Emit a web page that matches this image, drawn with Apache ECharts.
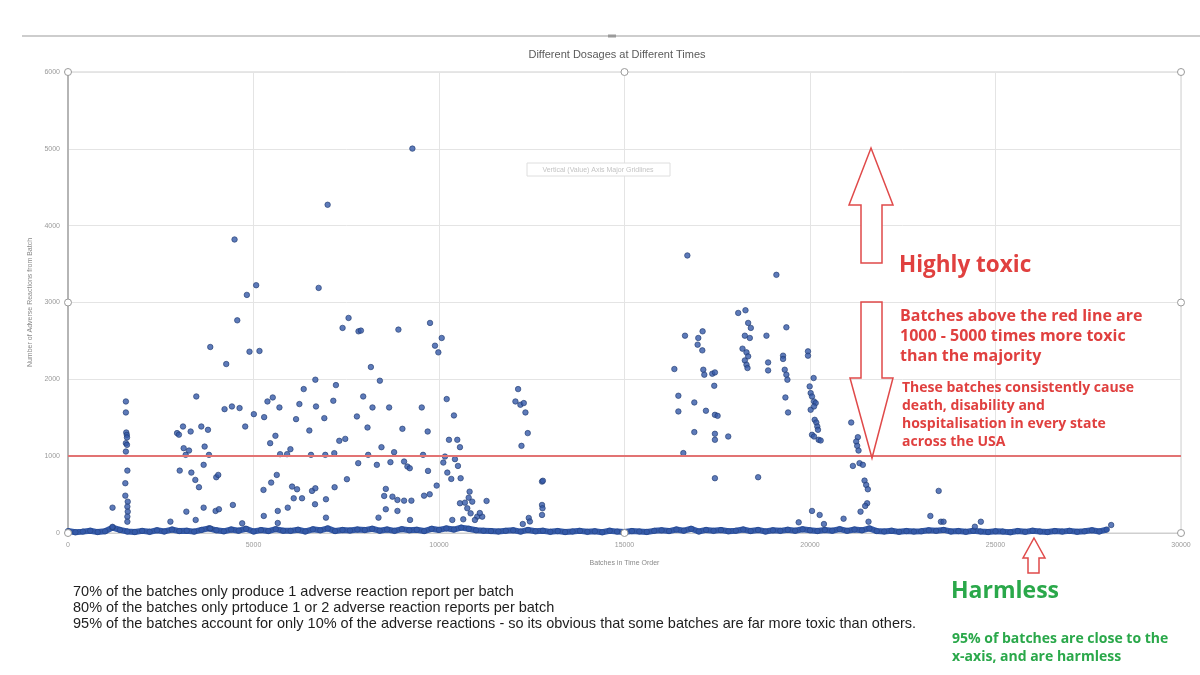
<!DOCTYPE html>
<html><head><meta charset="utf-8">
<script src="https://cdn.jsdelivr.net/npm/echarts@6/dist/echarts.min.js"></script>
<style>html,body{margin:0;padding:0;background:#fff}#c{width:1200px;height:675px}</style>
</head><body><div id="c"></div>
<script>
// ---------- DATA ----------
const chartTitle = 'Different Dosages at Different Times';
const xAxisTitle = 'Batches in Time Order';
const yAxisTitle = 'Number of Adverse Reactions from Batch';
const xTickValues = [0, 5000, 10000, 15000, 20000, 25000, 30000];
const yTickValues = [0, 1000, 2000, 3000, 4000, 5000, 6000];
const toxicThreshold = 1000;

// dense band of batches near the x-axis (one reading every 200 batches)
const baselineStep = 200;
const baselineReports = [
  25, 10, 18, 30, 12, 22, 70, 40, 20, 12,
  28, 15, 35, 20, 45, 25, 30, 18, 40, 60,
  35, 22, 45, 30, 55, 20, 38, 25, 50, 30,
  28, 42, 20, 48, 35, 60, 25, 40, 32, 45,
  38, 55, 30, 45, 28, 50, 35, 42, 25, 55,
  40, 60, 45, 70, 55, 35, 30, 25, 20, 28,
  35, 18, 40, 22, 30, 15, 25, 12, 20, 28,
  15, 22, 10, 30, 18, 12, 25, 20, 14, 28,
  35, 25, 45, 30, 55, 20, 40, 28, 38, 22,
  30, 45, 25, 40, 20, 35, 28, 42, 30, 48,
  35, 25, 40, 30, 50, 28, 45, 35, 60, 25,
  20, 30, 15, 25, 18, 22, 35, 28, 40, 20,
  25, 15, 30, 20, 12, 22, 18, 10, 25, 15,
  30, 20, 12, 25, 18, 28, 15, 22, 35, 20,
  45
];

// [batch index, adverse reaction reports]
const cluster1500 = [[1200,330],[1200,80],[1560,1712],[1560,1569],[1570,1308],[1585,1277],[1590,1243],[1560,1169],[1590,1147],[1560,1060],[1600,812],[1545,648],[1545,486],[1610,408],[1600,343],[1610,278],[1600,213],[1600,147]];
const cluster3000 = [[2760,148],[2940,1300],[2990,1280],[3100,1386],[3306,1321],[3458,1777],[3593,1386],[3773,1343],[3835,2421],[3118,1104],[3262,1073],[3172,1017],[3683,1125],[3800,1017],[3011,812],[3325,786],[3432,691],[3530,596],[3656,887],[3996,726],[4050,756],[3190,278],[3441,170],[3656,330],[3978,287],[4068,309],[3835,60]];
const cluster5000 = [[4220,1612],[4265,2199],[4418,1647],[4489,3820],[4562,2768],[4624,1626],[4444,365],[4695,126],[4776,1386],[4821,3099],[4892,2360],[5009,1547],[5072,3225],[5161,2369],[5269,561],[5287,1508],[5277,222],[5376,1712],[5519,1764],[5449,1169],[5476,656],[5591,1265],[5627,756],[5654,287],[5654,130],[5699,1634],[5717,1026],[5905,1026],[5923,330],[5995,1091],[6040,604],[6174,569],[6084,452],[6308,452],[6147,1482],[6237,1678],[6353,1873],[6505,1334],[6550,1017],[6577,548],[6667,582],[6658,374],[6667,1995],[6685,1647],[6756,3190],[6909,1495],[6935,1017],[6953,439],[6953,200],[6998,4272],[7151,1721],[7186,596],[7177,1039],[7222,1925],[7312,1200],[7473,1225],[7401,2669],[7518,700],[7562,2799],[7787,1517],[7831,2625],[7823,909]];
const cluster9000 = [[9283,5003],[7895,2634],[8906,2647],[9758,2734],[10073,2538],[9892,2438],[9982,2351],[8164,2160],[8406,1982],[7957,1777],[8207,1634],[8656,1634],[9535,1634],[10207,1743],[10403,1530],[8073,1373],[9014,1356],[9695,1321],[8449,1117],[8790,1052],[8091,1017],[9570,1017],[10269,1213],[10493,1213],[10565,1117],[10161,995],[10430,961],[8325,887],[8691,922],[9059,930],[9148,865],[9212,843],[9704,808],[10116,917],[10224,786],[10511,873],[10331,704],[10583,713],[9937,617],[8566,574],[8522,482],[8745,473],[8880,430],[9059,421],[9256,421],[9597,486],[9749,504],[8566,309],[8880,287],[8369,200],[9220,170]];
const cluster11000 = [[10825,538],[10565,387],[10699,395],[10896,408],[11282,417],[10762,322],[10852,256],[11030,213],[11165,213],[10968,170],[10654,178],[10358,170],[10800,460],[11100,260]];
const cluster12500 = [[12132,1873],[12060,1712],[12194,1669],[12285,1691],[12330,1569],[12392,1300],[12223,1134],[12777,669],[12800,680],[12777,365],[12790,322],[12777,235],[12419,196],[12450,150],[12258,117]];
const cluster17000 = [[16694,3612],[16631,2568],[16989,2538],[17105,2625],[16971,2451],[17097,2377],[16344,2134],[17124,2125],[17151,2060],[17366,2073],[17437,2090],[17419,1916],[16452,1786],[16452,1582],[16882,1699],[17195,1591],[17437,1538],[17509,1525],[16882,1313],[17437,1291],[17437,1213],[17796,1256],[16586,1040],[17437,713]];
const cluster18500 = [[19094,3360],[18065,2864],[18261,2899],[18333,2734],[18405,2669],[18244,2568],[18378,2538],[18181,2399],[18288,2351],[18333,2299],[18244,2246],[18288,2190],[18315,2147],[18826,2568],[18871,2220],[18871,2116],[19363,2677],[19274,2308],[19274,2265],[19319,2125],[19363,2060],[19391,1995],[19337,1764],[19409,1569],[18602,726]];
const cluster20000 = [[19946,2364],[19946,2308],[20098,2017],[19991,1908],[20018,1821],[20054,1777],[20108,1712],[20153,1691],[20018,1604],[20108,1647],[20126,1473],[20170,1438],[20197,1386],[20215,1343],[20054,1278],[20108,1256],[20233,1213],[20287,1204],[20054,287],[20260,235],[20376,117],[19695,139]];
const cluster21500 = [[21111,1438],[21290,1247],[21245,1191],[21272,1134],[21308,1073],[21156,873],[21335,909],[21424,887],[21470,682],[21514,626],[21559,569],[21541,387],[21487,352],[21362,278],[21577,147],[20905,186]];
const clusterLate = [[23468,548],[23244,222],[23530,147],[23600,147],[24605,147],[24444,82],[28118,104]];

const noteLines = [
  '70% of the batches only produce 1 adverse reaction report per batch',
  '80% of the batches only prtoduce 1 or 2 adverse reaction reports per batch',
  '95% of the batches account for only 10% of the adverse reactions - so its obvious that some batches are far more toxic than others.'
];
const toxicHeading = 'Highly toxic';
const toxicText1 = ['Batches above the red line are', '1000 - 5000 times more toxic', 'than the majority'];
const toxicText2 = ['These batches consistently cause', 'death, disability and', 'hospitalisation in every state', 'across the USA'];
const harmlessHeading = 'Harmless';
const harmlessText = ['95% of batches are close to the', 'x-axis, and are harmless'];
const gridTooltipText = 'Vertical (Value) Axis Major Gridlines';

// ---------- CHART ----------
const dotColor = '#3459a8';
const red = '#e0403f';
const green = '#2aa84a';
const chart = echarts.init(document.getElementById('c'), null, {renderer: 'canvas'});
const outliers = [].concat(cluster1500, cluster3000, cluster5000, cluster9000, cluster11000, cluster12500, cluster17000, cluster18500, cluster20000, cluster21500, clusterLate);

const option = {
  animation: false,
  backgroundColor: '#fff',
  title: {
    text: chartTitle, left: 612, top: 44, textAlign: 'center',
    textStyle: {fontFamily: 'Liberation Sans', fontSize: 11, fontWeight: 'normal', color: '#5a5a5a'}
  },
  grid: {left: 68, right: 19, top: 72, bottom: 142, show: true, borderColor: '#cfcfcf', borderWidth: 1},
  xAxis: {
    type: 'value', min: 0, max: 30000, interval: 5000,
    name: xAxisTitle, nameLocation: 'middle', nameGap: 27,
    nameTextStyle: {fontSize: 7, color: '#8a8a8a', fontFamily: 'Liberation Sans'},
    axisLine: {show: true, lineStyle: {color: '#cfcfcf', width: 1}},
    axisTick: {show: false},
    axisLabel: {fontSize: 7, color: '#9a9a9a', margin: 9, fontFamily: 'Liberation Sans',
      formatter: v => xTickValues.includes(v) ? String(v) : ''},
    splitLine: {show: true, lineStyle: {color: '#e4e4e4', width: 1}}
  },
  yAxis: {
    type: 'value', min: 0, max: 6000, interval: 1000,
    name: yAxisTitle, nameLocation: 'middle', nameGap: 26, nameRotate: 90,
    nameTextStyle: {fontSize: 7, color: '#8a8a8a', fontFamily: 'Liberation Sans'},
    axisLine: {show: true, lineStyle: {color: '#b5b5b5', width: 2}},
    axisTick: {show: false},
    axisLabel: {fontSize: 7, color: '#9a9a9a', margin: 8, fontFamily: 'Liberation Sans',
      formatter: v => yTickValues.includes(v) ? String(v) : ''},
    splitLine: {show: true, lineStyle: {color: '#e4e4e4', width: 1}}
  },
  series: [
    {
      name: 'threshold', type: 'line', data: [], silent: true,
      markLine: {
        silent: true, symbol: ['none', 'none'], label: {show: false},
        lineStyle: {color: '#e27373', width: 2, type: 'solid'},
        data: [{yAxis: toxicThreshold}]
      },
      z: 1
    },
    {
      name: 'baseline', type: 'line',
      data: baselineReports.map((v, i) => [i * baselineStep, v]),
      symbol: 'circle', symbolSize: 5.5, showSymbol: true,
      lineStyle: {color: dotColor, width: 6},
      itemStyle: {color: dotColor, borderColor: '#23407a', borderWidth: 0.5},
      z: 3
    },
    {
      name: 'batches', type: 'scatter', data: outliers,
      symbol: 'circle', symbolSize: 5.5,
      itemStyle: {color: dotColor, borderColor: '#1f3a70', borderWidth: 0.8},
      z: 4
    }
  ]
};
chart.setOption(option);

// ---------- ANNOTATIONS ----------
const P = (x, y) => chart.convertToPixel({gridIndex: 0}, [x, y]);
const corners = [P(0, 6000), P(15000, 6000), P(30000, 6000), P(0, 3000), P(30000, 3000), P(0, 0), P(15000, 0), P(30000, 0)];
const handles = corners.map(p => ({
  type: 'circle', shape: {cx: p[0], cy: p[1], r: 3.5},
  style: {fill: '#fff', stroke: '#9a9a9a', lineWidth: 1}, z: 10
}));
const boldFont = '"Open Sans", "Liberation Sans", sans-serif';
function textBlock(lines, x, y0, lh, size, color) {
  return lines.map((t, i) => ({
    type: 'text', x: x, y: y0 + i * lh,
    style: {text: t, fill: color, font: 'bold ' + size + 'px ' + boldFont, textVerticalAlign: 'middle'}, z: 20
  }));
}
const graphics = [
  {type: 'line', shape: {x1: 22, y1: 36, x2: 1200, y2: 36}, style: {stroke: '#cdcdcd', lineWidth: 2}, z: 5},
  {type: 'line', shape: {x1: 608, y1: 36, x2: 616, y2: 36}, style: {stroke: '#9a9a9a', lineWidth: 3}, z: 6},
  // gridline tooltip
  {type: 'rect', shape: {x: 527, y: 163, width: 143, height: 13},
    style: {fill: '#fff', stroke: '#dedede', lineWidth: 1}, z: 8},
  {type: 'text', x: 598, y: 170, style: {text: gridTooltipText, fill: '#c4c4c4', font: '7px "Liberation Sans"', textAlign: 'center', textVerticalAlign: 'middle'}, z: 9},
  // arrows
  {type: 'polygon', shape: {points: [[871,148],[893,205],[882,205],[882,263],[861,263],[861,205],[849,205]]},
    style: {fill: '#fff', stroke: '#e04a4a', lineWidth: 1.5}, z: 15},
  {type: 'polygon', shape: {points: [[861,302],[882,302],[882,378],[893,378],[872,458],[850,378],[861,378]]},
    style: {fill: 'rgba(255,255,255,0)', stroke: '#e04a4a', lineWidth: 1.5}, z: 15},
  {type: 'polygon', shape: {points: [[1034,538],[1045,558],[1039,558],[1039,573],[1028,573],[1028,558],[1023,558]]},
    style: {fill: '#fff', stroke: '#e04a4a', lineWidth: 1.5}, z: 15},
  {type: 'text', x: 899, y: 266, style: {text: toxicHeading, fill: red, font: 'bold 22.5px ' + boldFont, textVerticalAlign: 'middle'}, z: 20},
  {type: 'text', x: 951, y: 591, style: {text: harmlessHeading, fill: green, font: 'bold 23px ' + boldFont, textVerticalAlign: 'middle'}, z: 20}
].concat(
  textBlock(toxicText1, 900, 316, 20, 16, red),
  textBlock(toxicText2, 902, 388, 18, 14, red),
  textBlock(harmlessText, 952, 639, 18, 14, green),
  noteLines.map((t, i) => ({
    type: 'text', x: 73, y: 592 + i * 16,
    style: {text: t, fill: '#1e1e1e', font: '14.5px "Liberation Sans", Arial, sans-serif', textVerticalAlign: 'middle'}, z: 20
  })),
  handles
);
chart.setOption({graphic: graphics});
</script></body></html>
